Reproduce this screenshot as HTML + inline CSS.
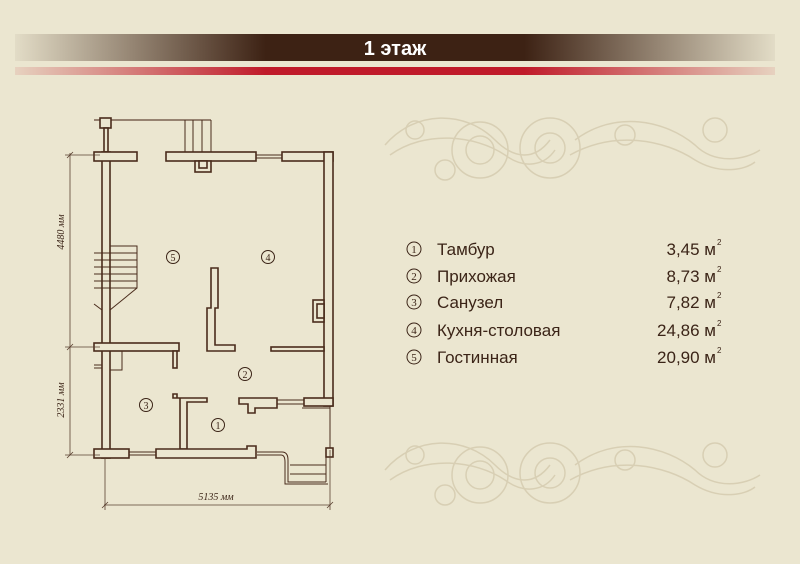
<!DOCTYPE html>
<html><head><meta charset="utf-8"><style>
html,body{margin:0;padding:0;background:#ebe6d0;}
svg{display:block}
</style></head><body>
<svg width="800" height="564" viewBox="0 0 800 564" xmlns="http://www.w3.org/2000/svg">
<defs>
<linearGradient id="hb" x1="0" x2="1">
<stop offset="0" stop-color="#3d2214" stop-opacity="0.05"/>
<stop offset="0.33" stop-color="#3d2214" stop-opacity="1"/>
<stop offset="0.67" stop-color="#3d2214" stop-opacity="1"/>
<stop offset="1" stop-color="#3d2214" stop-opacity="0.05"/>
</linearGradient>
<linearGradient id="rb" x1="0" x2="1">
<stop offset="0" stop-color="#c01b2a" stop-opacity="0.1"/>
<stop offset="0.33" stop-color="#c01b2a" stop-opacity="1"/>
<stop offset="0.67" stop-color="#c01b2a" stop-opacity="1"/>
<stop offset="1" stop-color="#c01b2a" stop-opacity="0.1"/>
</linearGradient>
<g id="orn" fill="none" stroke="#d8cfb4" stroke-width="1.5">
<path d="M0 45 C30 10 80 10 110 40 C130 60 150 60 165 40"/>
<path d="M5 55 C40 30 90 35 120 55 C140 70 160 65 170 50"/>
<circle cx="95" cy="50" r="28"/>
<circle cx="95" cy="50" r="14"/>
<circle cx="165" cy="48" r="30"/>
<circle cx="165" cy="48" r="15"/>
<path d="M190 40 C230 10 280 20 310 45 C330 65 360 60 375 50"/>
<path d="M185 55 C230 30 280 40 310 60 C335 75 360 70 370 62"/>
<circle cx="240" cy="35" r="10"/><circle cx="60" cy="70" r="10"/>
<circle cx="330" cy="30" r="12"/><circle cx="30" cy="30" r="9"/>
</g>
</defs>
<rect x="15" y="34" width="760" height="27" fill="url(#hb)"/>
<rect x="15" y="67" width="760" height="8" fill="url(#rb)"/>
<text x="395" y="55" font-family="Liberation Sans, sans-serif" font-weight="bold" font-size="20" fill="#fff" text-anchor="middle">1 этаж</text>

<use href="#orn" x="385" y="100"/>
<use href="#orn" x="385" y="425"/>

<g fill="#ebe6d0" stroke="#4a2c1c" stroke-width="1.6">
<!-- porch top -->
<line x1="94" y1="120" x2="211" y2="120" stroke="#7a6050"/>
<line x1="185" y1="120" x2="185" y2="152" stroke-width="1"/>
<line x1="193" y1="120" x2="193" y2="152" stroke-width="1"/>
<line x1="202" y1="120" x2="202" y2="152" stroke-width="1"/>
<line x1="211" y1="120" x2="211" y2="152" stroke-width="1"/>
<rect x="100" y="118" width="11" height="10"/>
<rect x="104" y="128" width="4" height="24"/>
<!-- left wall -->
<rect x="102" y="152" width="8" height="306"/>
<rect x="94" y="152" width="43" height="9"/>
<rect x="166" y="152" width="90" height="9"/>
<rect x="282" y="152" width="51" height="9"/>
<rect x="324" y="152" width="9" height="254"/>
<rect x="304" y="398" width="29" height="8"/>
<rect x="195" y="161" width="16" height="11"/>
<rect x="199" y="161" width="8" height="7"/>
<line x1="256" y1="155" x2="282" y2="155" stroke-width="1"/>
<line x1="256" y1="158" x2="282" y2="158" stroke-width="1"/>
<!-- stairs -->
<path d="M110 246 H137 V288 L110 310" fill="none" stroke-width="1"/>
<g stroke-width="1">
<line x1="94" y1="253" x2="137" y2="253"/><line x1="94" y1="260" x2="137" y2="260"/>
<line x1="94" y1="267" x2="137" y2="267"/><line x1="94" y1="274" x2="137" y2="274"/>
<line x1="94" y1="281" x2="137" y2="281"/><line x1="94" y1="288" x2="137" y2="288"/>
<line x1="94" y1="304" x2="102" y2="310"/>
</g>
<!-- middle walls -->
<rect x="94" y="343" width="85" height="8"/>
<rect x="173" y="351" width="4" height="17"/>
<path d="M211 268 H218 V308 H215 V345 H235 V351 H207 V308 H211 Z"/>
<rect x="271" y="347" width="53" height="4"/>
<rect x="313" y="300" width="11" height="22"/>
<rect x="317" y="304" width="7" height="14"/>
<path d="M110 351 H122 V370 H110" fill="none" stroke-width="1"/>
<line x1="94" y1="365" x2="102" y2="365" stroke-width="1"/>
<line x1="94" y1="368" x2="102" y2="368" stroke-width="1"/>
<!-- bathroom -->
<path d="M173 394 H177 V398 H207 V402 H187 V449 H180 V398 H173 Z"/>
<!-- bottom walls -->
<rect x="94" y="449" width="35" height="9"/>
<line x1="129" y1="452" x2="156" y2="452" stroke-width="1"/>
<line x1="129" y1="455" x2="156" y2="455" stroke-width="1"/>
<path d="M156 449 H247 V446 H256 V458 H156 Z"/>
<!-- entrance -->
<path d="M239 398 H277 V408 H255 V413 H248 V404 H239 Z"/>
<line x1="277" y1="400" x2="304" y2="400" stroke-width="1"/>
<line x1="277" y1="404" x2="304" y2="404" stroke-width="1"/>
<line x1="302" y1="408" x2="330" y2="408" stroke-width="1"/>
<line x1="330" y1="406" x2="330" y2="450" stroke-width="1"/>
<!-- bottom right steps -->
<path d="M257 452 H282 Q288 452 288 460 V482 H326" fill="none" stroke-width="1"/>
<path d="M257 455 H281 Q285 455 285 462 V484 H328" fill="none" stroke-width="1"/>
<line x1="290" y1="465" x2="326" y2="465" stroke-width="1"/>
<line x1="290" y1="474" x2="326" y2="474" stroke-width="1"/>
<rect x="326" y="448" width="7" height="9"/>
<line x1="326" y1="457" x2="326" y2="482" stroke-width="1"/>
</g>
<!-- dimensions -->
<g stroke="#5a4030" stroke-width="0.8" fill="none">
<line x1="70" y1="153" x2="70" y2="455"/>
<line x1="65" y1="155" x2="100" y2="155"/>
<line x1="65" y1="347" x2="100" y2="347"/>
<line x1="65" y1="455" x2="100" y2="455"/>
<line x1="67" y1="158" x2="73" y2="152"/><line x1="67" y1="350" x2="73" y2="344"/><line x1="67" y1="458" x2="73" y2="452"/>
<line x1="104" y1="505" x2="330" y2="505"/>
<line x1="105" y1="458" x2="105" y2="510"/>
<line x1="330" y1="450" x2="330" y2="510"/>
<line x1="102" y1="508" x2="108" y2="502"/><line x1="327" y1="508" x2="333" y2="502"/>
</g>
<g font-family="Liberation Serif, serif" font-style="italic" font-size="10" fill="#3b2417">
<text transform="translate(64 232) rotate(-90)" text-anchor="middle">4480 мм</text>
<text transform="translate(64 400) rotate(-90)" text-anchor="middle">2331 мм</text>
<text x="216" y="500" text-anchor="middle">5135 мм</text>
</g>
<g font-family="Liberation Serif, serif" font-size="10" fill="#3b2417" text-anchor="middle">
<circle cx="173" cy="257" r="6.5" fill="none" stroke="#3b2417"/><text x="173" y="261">5</text>
<circle cx="268" cy="257" r="6.5" fill="none" stroke="#3b2417"/><text x="268" y="261">4</text>
<circle cx="245" cy="374" r="6.5" fill="none" stroke="#3b2417"/><text x="245" y="378">2</text>
<circle cx="146" cy="405" r="6.5" fill="none" stroke="#3b2417"/><text x="146" y="409">3</text>
<circle cx="218" cy="425" r="6.5" fill="none" stroke="#3b2417"/><text x="218" y="429">1</text>
</g>
<!-- legend -->
<g font-family="Liberation Sans, sans-serif" font-size="17" fill="#3b2417">
<g fill="none" stroke="#3b2417" stroke-width="1">
<circle cx="414" cy="249" r="7"/><circle cx="414" cy="276" r="7"/><circle cx="414" cy="302" r="7"/><circle cx="414" cy="330" r="7"/><circle cx="414" cy="357" r="7"/>
</g>
<g font-family="Liberation Serif, serif" font-size="11" text-anchor="middle">
<text x="414" y="253">1</text><text x="414" y="280">2</text><text x="414" y="306">3</text><text x="414" y="334">4</text><text x="414" y="361">5</text>
</g>
<text x="437" y="255">Тамбур</text>
<text x="437" y="282">Прихожая</text>
<text x="437" y="308">Санузел</text>
<text x="437" y="336">Кухня-столовая</text>
<text x="437" y="363">Гостинная</text>
<g text-anchor="end">
<text x="716" y="255">3,45 м</text>
<text x="716" y="282">8,73 м</text>
<text x="716" y="308">7,82 м</text>
<text x="716" y="336">24,86 м</text>
<text x="716" y="363">20,90 м</text>
</g>
<g font-size="8">
<text x="717" y="245">2</text><text x="717" y="272">2</text><text x="717" y="298">2</text><text x="717" y="326">2</text><text x="717" y="353">2</text>
</g>
</g>
</svg>
</body></html>
